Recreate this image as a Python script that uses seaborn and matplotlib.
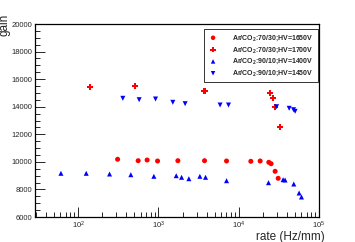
import matplotlib
matplotlib.use("Agg")
import matplotlib.pyplot as plt
import matplotlib.ticker as mticker
import numpy as np
import pandas as pd
import seaborn as sns

# gain vs rate, four gas / HV settings
labels = [r"Ar/CO$_\mathbf{2}$:70/30;HV=1650V",
          r"Ar/CO$_\mathbf{2}$:70/30;HV=1700V",
          r"Ar/CO$_\mathbf{2}$:90/10;HV=1400V",
          r"Ar/CO$_\mathbf{2}$:90/10;HV=1450V"]

rate_1650 = [310, 559, 723, 975, 1746, 3750, 7050, 14150, 18500, 23700, 25300, 28400, 31000]
gain_1650 = [10186, 10084, 10135, 10062, 10084, 10084, 10062, 10040, 10062, 9968, 9866, 9315, 8807]

rate_1700 = [139, 513, 3750, 24400, 26600, 28400, 32800]
gain_1700 = [15430, 15503, 15140, 15020, 14610, 13958, 12529]

rate_1400 = [61, 126, 246, 453, 877, 1665, 1941, 2393, 3280, 3860, 7050, 23500, 35700, 37800, 48500, 56500, 60500]
gain_1400 = [9170, 9170, 9119, 9068, 8952, 8996, 8880, 8778, 8952, 8880, 8633, 8488, 8706, 8684, 8394, 7741, 7451]

rate_1450 = [360, 575, 920, 1510, 2150, 5860, 7460, 29600, 42500, 48100, 50400]
gain_1450 = [14610, 14509, 14560, 14320, 14220, 14125, 14125, 14000, 13885, 13784, 13668]

rates = [rate_1650, rate_1700, rate_1400, rate_1450]
gains = [gain_1650, gain_1700, gain_1400, gain_1450]

df = pd.concat([pd.DataFrame({"rate": r, "gain": g, "series": lab})
                for r, g, lab in zip(rates, gains, labels)], ignore_index=True)

sns.set_style("white")
plt.rcParams["font.family"] = ["Liberation Sans", "DejaVu Sans"]
plt.rcParams["mathtext.fontset"] = "custom"
plt.rcParams["mathtext.rm"] = "Liberation Sans"
plt.rcParams["mathtext.bf"] = "Liberation Sans:bold"

fig = plt.figure(figsize=(3.55, 2.42), dpi=100)
ax = fig.add_axes([0.0986, 0.1033, 0.8, 0.7975])

palette = dict(zip(labels, ["#ff0000", "#ff0000", "#0000ff", "#0000ff"]))
markers = dict(zip(labels, ["o", "P", "^", "v"]))
sizes = dict(zip(labels, [13, 20, 13, 13]))

for lab in labels:
    sub = df[df["series"] == lab]
    sns.scatterplot(data=sub, x="rate", y="gain", color=palette[lab], marker=markers[lab],
                    s=sizes[lab], edgecolor="none", linewidth=0, label=lab, ax=ax)

ax.set_xscale("log")
ax.set_xlim(29, 1e5)
ax.set_ylim(6000, 20000)

ax.yaxis.set_major_locator(mticker.MultipleLocator(2000))
ax.yaxis.set_minor_locator(mticker.MultipleLocator(500))
ax.xaxis.set_major_locator(mticker.LogLocator(base=10))
ax.xaxis.set_minor_locator(mticker.LogLocator(base=10, subs=np.arange(2, 10)))
ax.xaxis.set_minor_formatter(mticker.NullFormatter())

ax.tick_params(which="both", direction="in", left=True, bottom=True, top=False, right=False,
               labelsize=5.5, pad=2, width=0.7)
ax.tick_params(which="major", length=7)
ax.tick_params(which="minor", length=3.5)

for sp in ax.spines.values():
    sp.set_color("black")
    sp.set_linewidth(0.9)

ax.set_xlabel("rate (Hz/mm)", fontsize=8.5, ha="right", x=1.02, labelpad=0)
ax.set_ylabel("gain", fontsize=8.5, ha="right", y=1.055, labelpad=0)
ax.yaxis.set_label_coords(-0.085, 1.055)

leg = ax.legend(loc="upper right", bbox_to_anchor=(0.9955, 0.973), frameon=True, fancybox=False,
                prop={"size": 5, "weight": "bold"}, borderpad=0.6, labelspacing=0.35,
                handletextpad=2.0, handlelength=1.5, markerscale=0.9, borderaxespad=0)
leg.get_frame().set_edgecolor("black")
leg.get_frame().set_linewidth(0.7)

fig.savefig("out.png", dpi=100)
